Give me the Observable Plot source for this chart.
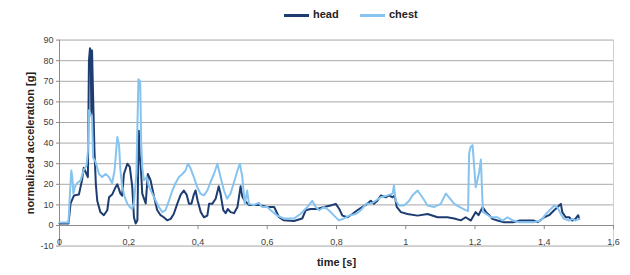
<!DOCTYPE html>
<html>
<head>
<meta charset="utf-8">
<script src="https://cdn.jsdelivr.net/npm/d3@7"></script>
<script src="https://cdn.jsdelivr.net/npm/@observablehq/plot@0.6"></script>
<style>
  html, body { margin: 0; padding: 0; background: #fff; }
  body { width: 630px; height: 275px; overflow: hidden; font-family: "Liberation Sans", Arial, sans-serif; }
  #legend { position: relative; height: 28px; width: 630px; }
  #legend .sw { position: absolute; top: 14px; width: 25px; height: 2.5px; }
  #legend .lb { position: absolute; top: 8px; font-size: 11px; font-weight: bold; color: #222; line-height: 13px; }
</style>
</head>
<body>
<div id="legend"></div>
<div id="chart"></div>
<script>
const seriesNames = ["head", "chest"];
const seriesColors = ["#1d3c70", "#86c3ef"];
const xTitle = "time [s]";
const yTitle = "normalized acceleration [g]";
const xTicks = [0, 0.2, 0.4, 0.6, 0.8, 1, 1.2, 1.4, 1.6];
const yTicks = [-10, 0, 10, 20, 30, 40, 50, 60, 70, 80, 90];

const headTime = [0,0.026,0.032,0.042,0.056,0.065,0.070,0.078,0.082,0.085,0.088,0.090,0.092,0.094,0.096,0.101,0.105,0.109,0.118,0.128,0.138,0.143,0.152,0.162,0.167,0.176,0.181,0.186,0.196,0.203,0.210,0.215,0.220,0.225,0.229,0.232,0.234,0.239,0.249,0.255,0.263,0.273,0.282,0.292,0.301,0.311,0.321,0.330,0.340,0.350,0.359,0.367,0.374,0.381,0.388,0.393,0.399,0.408,0.417,0.427,0.432,0.441,0.451,0.460,0.465,0.473,0.480,0.486,0.494,0.504,0.514,0.523,0.528,0.535,0.547,0.562,0.576,0.600,0.620,0.634,0.648,0.677,0.701,0.711,0.725,0.744,0.764,0.783,0.798,0.808,0.817,0.832,0.846,0.860,0.875,0.889,0.899,0.908,0.918,0.928,0.942,0.952,0.962,0.968,0.974,0.986,1.005,1.034,1.063,1.092,1.120,1.140,1.159,1.173,1.188,1.202,1.210,1.222,1.232,1.241,1.250,1.265,1.284,1.310,1.330,1.370,1.381,1.400,1.414,1.428,1.443,1.448,1.452,1.462,1.472,1.481,1.490,1.498,1.501];
const headAcc = [1,1,10.7,14.6,15,22,28,25,23.5,80,86,85,54,85,70,36,20,12,6.5,5,7.4,13.7,15,18.6,20,15.5,14.5,25,30,28.5,19,4,1,2.5,46,33,31,15.5,10.7,25,22,14,7.5,5,4,2.5,3.2,5.6,10.5,15,17,15,10.5,10.5,15,17,12,6.5,4,4.8,10.5,10.5,13,19,15.5,7.5,6,8,6.5,6,9,19,14,12,10,10,10,9,9,4,2.5,2.2,3.4,7.4,8,8,9,9.7,10.5,8,4.8,4,5.6,7.4,9,10.5,12,10.5,12,14.6,13.7,14.6,13.7,14.6,9,6.5,5.6,4.8,5.6,4,4,3.4,2.5,4,2.4,6.5,5,8.9,6.5,5,3.2,2.4,1.6,1.6,2.4,2.4,1.6,4,5,7.3,9.7,10.5,6.5,4,4,2.4,3.2,5,3.2];

const chestTime = [0,0.026,0.030,0.034,0.037,0.040,0.045,0.051,0.061,0.070,0.078,0.082,0.085,0.090,0.094,0.097,0.104,0.114,0.123,0.133,0.143,0.152,0.159,0.167,0.172,0.176,0.181,0.188,0.196,0.203,0.210,0.215,0.222,0.228,0.233,0.236,0.239,0.244,0.252,0.258,0.268,0.278,0.287,0.297,0.306,0.316,0.326,0.335,0.345,0.355,0.364,0.371,0.378,0.388,0.397,0.407,0.417,0.427,0.436,0.446,0.456,0.465,0.475,0.484,0.494,0.504,0.514,0.521,0.528,0.535,0.542,0.547,0.562,0.576,0.585,0.600,0.610,0.629,0.648,0.677,0.696,0.716,0.730,0.740,0.750,0.764,0.778,0.793,0.807,0.822,0.836,0.856,0.870,0.885,0.899,0.913,0.928,0.947,0.962,0.966,0.971,0.981,0.995,1.010,1.019,1.034,1.048,1.063,1.082,1.101,1.116,1.125,1.140,1.155,1.173,1.180,1.183,1.187,1.193,1.197,1.202,1.207,1.212,1.217,1.220,1.223,1.232,1.246,1.265,1.280,1.294,1.310,1.328,1.370,1.390,1.405,1.419,1.429,1.438,1.448,1.457,1.472,1.481,1.490,1.501];
const chestAcc = [1.5,1.5,15,26.7,23.5,15.5,19,20.5,22,27,29,36,56,54,52,33,31,25,23.5,25,23.5,20.5,26.7,43,39,26.7,19,14,10.5,9,8,11,25,71,70,40,28,22,23.5,19,15.5,12,9,6.5,7.4,12,17,20.5,23.5,25,26.7,30,28,23.5,19,15.5,14.6,17,21,25,30,23.5,17,13,15.5,21,26.7,30,23.5,10.5,17,10.5,10,11,9,9,7.4,4.8,3.4,3.4,5.6,9,12,9,7.4,9,7.4,4.8,2.5,3.4,4.8,5.6,7.4,10.5,10.5,12,13.7,14.6,15.5,19.4,12,9.7,9.7,12,14.6,17,13.7,9.7,9,10.5,15.5,13.7,10.5,9,7.5,7,35,38,39,30,18.6,22,26,32,18.6,6.5,5.6,4,4,2.4,4,2.4,1.6,1.6,2.4,5.6,8,9.7,8.8,5.6,3.2,2.4,3.2,2.4,3.2];

const head = headTime.map((t, i) => ({t, v: headAcc[i]}));
const chest = chestTime.map((t, i) => ({t, v: chestAcc[i]}));
const gridY = yTicks.filter(d => d !== 0);

// legend
const legend = document.getElementById("legend");
const legendLeft = [284, 360];
seriesNames.forEach((name, i) => {
  const sw = document.createElement("div");
  sw.className = "sw";
  sw.style.left = legendLeft[i] + "px";
  sw.style.background = seriesColors[i];
  legend.appendChild(sw);
  const lb = document.createElement("div");
  lb.className = "lb";
  lb.style.left = (legendLeft[i] + 29) + "px";
  lb.textContent = name;
  legend.appendChild(lb);
});

const chart = Plot.plot({
  width: 630,
  height: 247,
  marginLeft: 59,
  marginRight: 17,
  marginTop: 11.6,
  marginBottom: 29.4,
  style: {fontFamily: "'Liberation Sans', Arial, sans-serif", fontSize: "9px", color: "#404040", background: "white"},
  x: {domain: [0, 1.6]},
  y: {domain: [-10, 90]},
  marks: [
    Plot.ruleY(gridY, {stroke: "#a9a9a9", strokeWidth: 1}),
    Plot.frame({stroke: "#cfcfcf"}),
    Plot.ruleY([0], {stroke: "#8c8c8c"}),
    Plot.ruleX([0], {stroke: "#8c8c8c"}),
    Plot.ruleX(xTicks, {y1: 0, y2: -2, stroke: "#8c8c8c"}),
    Plot.line(head, {x: "t", y: "v", stroke: seriesColors[0], strokeWidth: 2}),
    Plot.line(chest, {x: "t", y: "v", stroke: seriesColors[1], strokeWidth: 2}),
    Plot.axisY({ticks: yTicks, tickSize: 3, tickPadding: 3, tickFormat: d => String(d), label: null, stroke: "#8c8c8c"}),
    Plot.axisX({ticks: xTicks, tickSize: 0, tickPadding: 2, dy: -9, tickFormat: d => String(d).replace(".", ","), label: null}),
    Plot.text([yTitle], {frameAnchor: "left", rotate: -90, dx: -29, textAnchor: "middle", lineAnchor: "middle", fontWeight: "bold", fontSize: 11, fill: "#222"}),
    Plot.text([xTitle], {frameAnchor: "bottom", dy: 16.5, textAnchor: "middle", lineAnchor: "middle", fontWeight: "bold", fontSize: 11, fill: "#222"})
  ]
});
document.getElementById("chart").appendChild(chart);
</script>
</body>
</html>
